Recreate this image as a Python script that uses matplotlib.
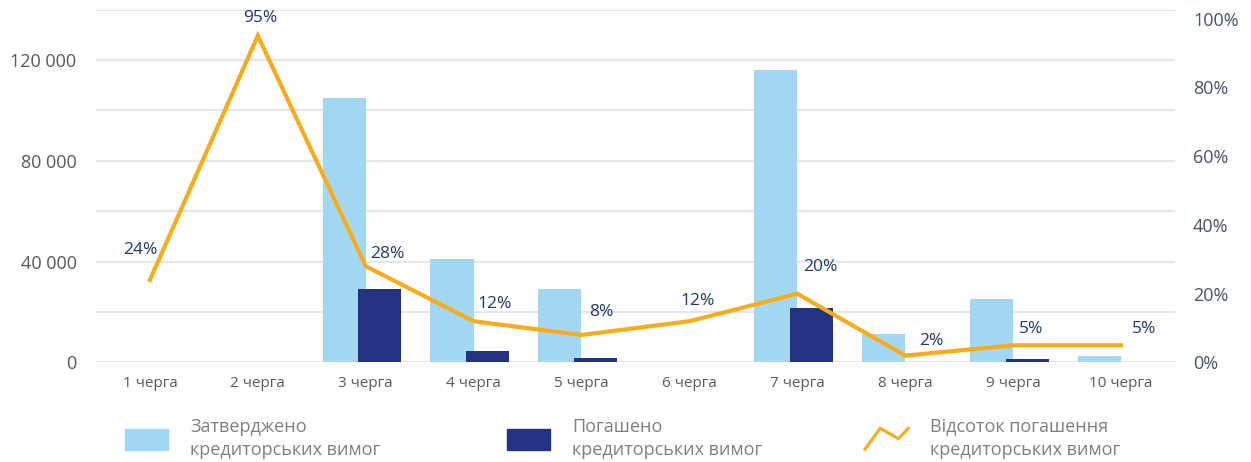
import numpy as np
import matplotlib
matplotlib.use("Agg")
import matplotlib.pyplot as plt
from matplotlib.ticker import FixedLocator, FuncFormatter
from matplotlib.legend_handler import HandlerBase
from matplotlib.lines import Line2D
from matplotlib.patches import Patch

plt.rcParams["font.family"] = ["Open Sans", "DejaVu Sans"]

categories = [f"{i} черга" for i in range(1, 11)]
approved = [0, 0, 105000, 41000, 29200, 0, 116000, 11300, 25200, 2600]
paid = [0, 0, 29200, 4600, 1800, 0, 21600, 200, 1400, 130]
pct = [24, 95, 28, 12, 8, 12, 20, 2, 5, 5]

# label offsets from the line points, in pixels (dx, dy)
label_offsets = [(-10, 30), (2, 18), (22, 12), (21, 17), (20, 23),
                 (8, 20), (23, 27), (26, 15), (18, 16), (23, 16)]

LIGHT = "#a3d8f5"
DARK = "#243282"
ORANGE = "#f9ac1b"
GRID = "#e6e6e6"


class ZigzagHandler(HandlerBase):
    def create_artists(self, legend, orig_handle, xdescent, ydescent,
                       width, height, fontsize, trans):
        fx = np.array([0.0, 0.35, 0.77, 1.0])
        fy = np.array([0.04, 1.04, 0.54, 1.04])
        line = Line2D(fx * width - xdescent, fy * height - ydescent,
                      color=orig_handle.get_color(), lw=2.2,
                      solid_joinstyle="miter", transform=trans)
        return [line]


fig = plt.figure(figsize=(12.51, 4.62), dpi=100)
ax = fig.add_axes([0.0767, 0.2154, 0.8625, 0.7636])
ax2 = ax.twinx()

x = np.arange(len(categories))
ax.bar(x - 0.2, approved, 0.4, color=LIGHT, zorder=2)
ax.bar(x + 0.13, paid, 0.4, color=DARK, zorder=3)

ax.set_xlim(-0.5, len(categories) - 0.5)
ax.set_ylim(0, 140000)
ax.yaxis.set_major_locator(FixedLocator([0, 40000, 80000, 120000]))
ax.yaxis.set_minor_locator(FixedLocator(np.arange(0, 140001, 20000)))
ax.yaxis.set_major_formatter(FuncFormatter(lambda v, p: f"{int(v):,}".replace(",", " ")))
ax.grid(axis="y", which="both", color=GRID, lw=1.5, zorder=0)
ax.set_axisbelow(True)
ax.set_xticks(x)
ax.set_xticklabels(categories)
for s in ax.spines.values():
    s.set_visible(False)
ax.tick_params(axis="y", which="both", length=0, pad=14, labelsize=13, labelcolor="#595959")
ax.tick_params(axis="x", length=0, pad=10, labelsize=11, labelcolor="#595959")

vals = np.array(pct) / 100
ax2.plot(x, vals, color=ORANGE, lw=3, solid_joinstyle="miter", zorder=4)
ax2.set_ylim(0, 1.0256)
ax2.set_yticks(np.arange(0, 1.01, 0.2))
ax2.yaxis.set_major_formatter(FuncFormatter(lambda v, p: f"{v * 100:.0f}%"))
ax2.tick_params(axis="y", length=0, pad=13, labelsize=13, labelcolor="#44546a")
for s in ax2.spines.values():
    s.set_visible(False)

for xi, v, p, (dx, dy) in zip(x, vals, pct, label_offsets):
    ax2.annotate(f"{p}%", (xi, v), xytext=(dx, dy), textcoords="offset pixels",
                 ha="center", va="center", fontsize=12.5, color="#1f3864")

legend_items = [
    (Patch(color=LIGHT), "Затверджено\nкредиторських вимог", 125, None),
    (Patch(color=DARK), "Погашено\nкредиторських вимог", 507, None),
    (Line2D([], [], color=ORANGE), "Відсоток погашення\nкредиторських вимог", 865, ZigzagHandler()),
]
W, H = 1251, 462
for handle, text, px, handler in legend_items:
    kw = {}
    if handler is not None:
        kw["handler_map"] = {Line2D: handler}
    leg = fig.legend([handle], [text], loc="center left",
                     bbox_to_anchor=(px / W, 1 - 438.5 / H),
                     frameon=False, borderpad=0, borderaxespad=0,
                     handlelength=2.4, handleheight=1.4, handletextpad=1.2,
                     prop={"size": 13}, **kw)
    for t in leg.get_texts():
        t.set_color("#7f7f7f")
        t.set_linespacing(1.4)

fig.savefig("out.png", dpi=100)
